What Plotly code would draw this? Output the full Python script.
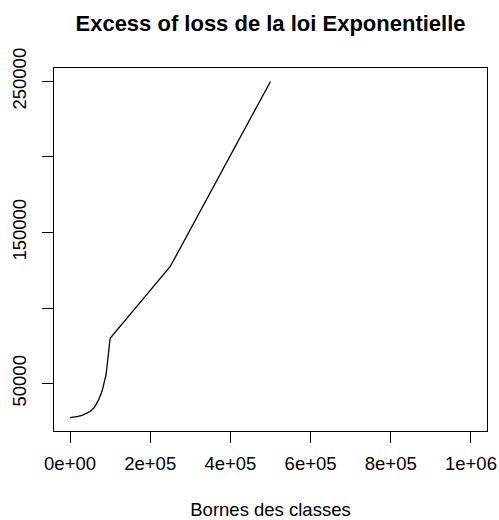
import plotly.graph_objects as go

# bornes des classes et excess of loss
bornes = [0, 10000, 20000, 30000, 40000, 50000, 60000, 70000, 80000, 90000,
          100000, 250000, 500000]
excess = [27500, 27800, 28300, 29000, 30000, 31500, 34000, 38500, 45000, 56000,
          80000, 127500, 250000]

x_ticks = [0, 200000, 400000, 600000, 800000, 1000000]
x_labels = ["0e+00", "2e+05", "4e+05", "6e+05", "8e+05", "1e+06"]
y_ticks = [50000, 100000, 150000, 200000, 250000]
y_labels = ["50000", "", "150000", "", "250000"]

FONT = "Liberation Sans, Arial, sans-serif"

W, H = 499, 520

fig = go.Figure()

fig.add_trace(
    go.Scatter(
        x=bornes,
        y=excess,
        mode='lines',
        line=dict(color='black', width=1.3),
        showlegend=False
    )
)

fig.update_layout(
    width=W,
    height=H,
    margin=dict(l=54, r=12, t=68, b=89),
    paper_bgcolor='white',
    plot_bgcolor='white',
    font=dict(family=FONT, size=18.5, color='black'),
    title=dict(text="<b>Excess of loss de la loi Exponentielle</b>",
               x=0.5, xref='paper', xanchor='center',
               y=1 - 23 / H, yanchor='middle',
               font=dict(size=22)),
)

fig.update_xaxes(
    range=[-40000, 1040000],
    tickmode='array', tickvals=x_ticks, ticktext=x_labels,
    ticks='outside', ticklen=11, tickwidth=1, tickcolor='black',
    ticklabelstandoff=5,
    showline=True, linecolor='black', linewidth=1, mirror=True,
    showgrid=False, zeroline=False, automargin=False,
    title=dict(text="Bornes des classes", standoff=31, font=dict(size=18.5)),
)

fig.update_yaxes(
    range=[18600, 258900],
    tickmode='array', tickvals=y_ticks, ticktext=y_labels,
    tickangle=-90,
    ticks='outside', ticklen=11, tickwidth=1, tickcolor='black',
    ticklabelstandoff=9,
    showline=True, linecolor='black', linewidth=1, mirror=True,
    showgrid=False, zeroline=False, automargin=False,
)

# drop the default 8px body margin so the figure fills the window
fig.write_html("out.html", config={'displayModeBar': False},
               post_script="document.body.style.margin='0px';")
